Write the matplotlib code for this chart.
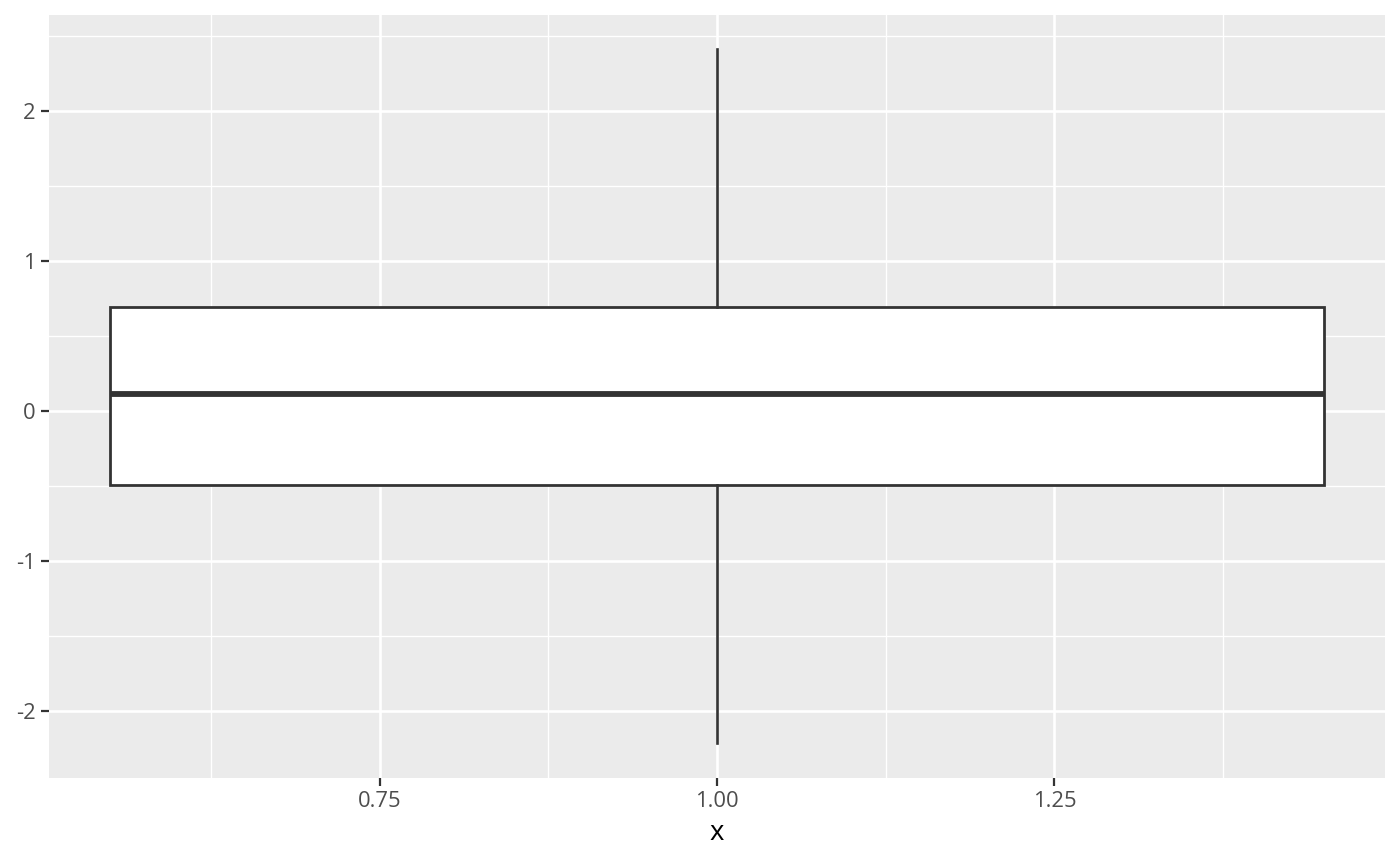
import matplotlib
matplotlib.use("Agg")
import matplotlib.pyplot as plt
from matplotlib.ticker import FixedLocator

plt.rcParams['font.family'] = ['Open Sans', 'DejaVu Sans']
plt.rcParams['axes.unicode_minus'] = False

# Data (box statistics)
positions = [1.0]
whisker_low = [-2.213]
q1 = [-0.493]
median = [0.113]
q3 = [0.693]
whisker_high = [2.413]
x_ticks = [0.75, 1.00, 1.25]
x_tick_labels = ["0.75", "1.00", "1.25"]
y_ticks = [-2, -1, 0, 1, 2]
y_tick_labels = ["-2", "-1", "0", "1", "2"]

stats = []
for i in range(len(positions)):
    stats.append(dict(whislo=whisker_low[i], q1=q1[i], med=median[i],
                      q3=q3[i], whishi=whisker_high[i], fliers=[]))

fig = plt.figure(figsize=(14, 8.66), dpi=100)
ax = fig.add_axes([0.035, 0.102, 0.9543, 0.881])
ax.set_facecolor('#EBEBEB')

ax.bxp(stats, positions=positions, widths=0.9, showfliers=False, showcaps=False,
       patch_artist=True,
       boxprops=dict(facecolor='white', edgecolor='#333333', linewidth=2.0),
       medianprops=dict(color='#333333', linewidth=4.2, solid_capstyle='butt'),
       whiskerprops=dict(color='#333333', linewidth=1.9),
       zorder=3)

ax.set_xlim(0.505, 1.495)
ax.set_ylim(-2.444, 2.644)

ax.xaxis.set_major_locator(FixedLocator(x_ticks))
ax.set_xticklabels(x_tick_labels)
ax.yaxis.set_major_locator(FixedLocator(y_ticks))
ax.set_yticklabels(y_tick_labels)
ax.xaxis.set_minor_locator(FixedLocator([0.625, 0.875, 1.125, 1.375]))
ax.yaxis.set_minor_locator(FixedLocator([-1.5, -0.5, 0.5, 1.5, 2.5]))

ax.grid(which='major', color='white', linewidth=1.9, zorder=0)
ax.grid(which='minor', color='white', linewidth=0.95, zorder=0)
ax.set_axisbelow(True)

for s in ax.spines.values():
    s.set_visible(False)

ax.tick_params(which='major', length=5.5, width=1.6, color='#333333',
               labelsize=15.8, labelcolor='#4D4D4D', pad=4)
ax.tick_params(which='minor', length=0)

ax.set_xlabel('x', fontsize=19.8, color='black', labelpad=5)

fig.savefig('out.png', dpi=100)
